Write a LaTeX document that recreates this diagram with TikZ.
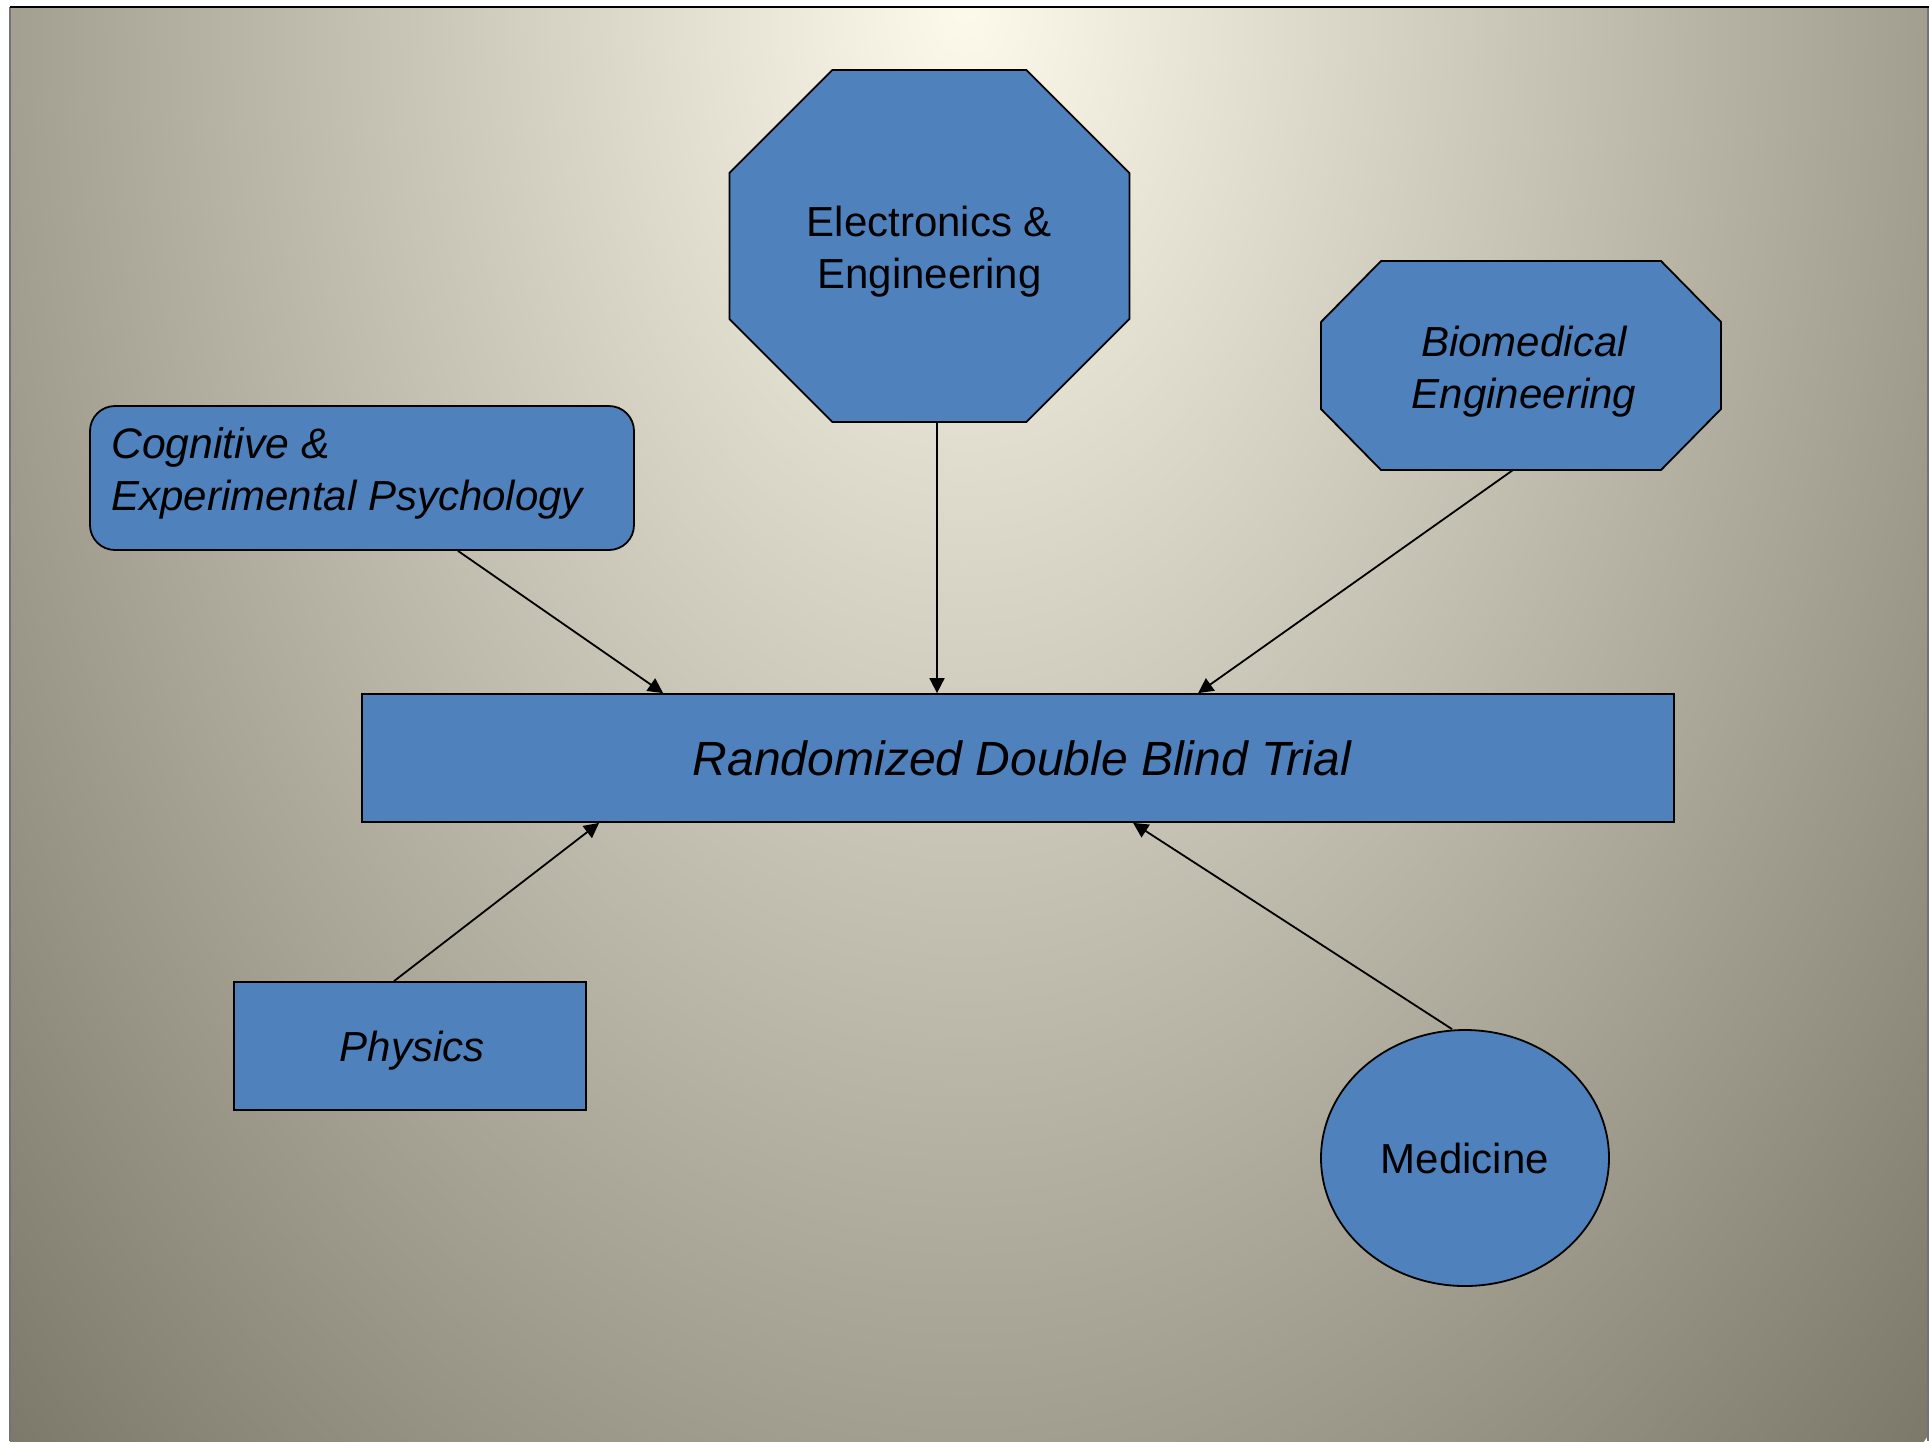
\documentclass[tikz,border=0pt]{standalone}
\usepackage{fontspec}
\setmainfont{Liberation Sans}
\usetikzlibrary{arrows.meta,shapes.geometric}
\definecolor{boxblue}{HTML}{4F81BD}
\definecolor{bgin}{HTML}{FDFAEB}
\definecolor{bgout}{HTML}{7C796A}
\pgfdeclarelayer{bglayer}
\pgfdeclarelayer{shapelayer}
\pgfsetlayers{bglayer,shapelayer,main}
\begin{document}
\begin{tikzpicture}[x=1pt,y=-1pt,
  box/.style={draw=black, fill=boxblue, line width=1.8pt},
  up/.style={font=\fontsize{42}{52}\selectfont, align=center, inner sep=0pt},
  itl/.style={font=\fontsize{42}{52}\selectfont\itshape, align=center, inner sep=0pt},
  conn/.style={line width=1.8pt, -{Triangle[length=15pt,width=15pt]}}]
\useasboundingbox (0,0) rectangle (1929,1441);
\begin{pgfonlayer}{bglayer}
  \begin{scope}
    \clip (10,7) rectangle (1929,1441);
    \shade[inner color=bgin, outer color=bgout] (964,0) ellipse (1360 and 2035);
  \end{scope}
  \draw[black!55, line width=1.5pt] (10,7) -- (10,1441);
  \draw[black!55, line width=1.5pt] (1928,7) -- (1928,1441);
  \draw[black, line width=2pt] (10,7) -- (1929,7);
\end{pgfonlayer}

% central box
\node[box, rectangle, minimum width=1312pt, minimum height=128pt, inner sep=0pt,
      label={[font=\fontsize{48}{56}\selectfont\itshape, inner sep=0pt, xshift=4pt]center:{Randomized Double Blind Trial}}]
      (rnd) at (1018,758) {};

% cognitive
\node[box, rectangle, rounded corners=25pt, minimum width=544pt, minimum height=144pt, inner sep=0pt,
      label={[itl, align=left, anchor=west, xshift=22pt, yshift=5pt]west:{\fontsize{42.7}{52}\selectfont Cognitive \&\\Experimental Psychology}}]
      (cog) at (362,478) {};

% electronics octagon
\node[minimum width=400pt, minimum height=352pt, inner sep=0pt, outer sep=0pt,
      label={[up, yshift=-6pt]center:{Electronics \&\\Engineering}}] (elec) at (929.4,246) {};
% biomedical octagon
\node[minimum width=400pt, minimum height=209pt, inner sep=0pt, outer sep=0pt,
      label={[itl, yshift=-6pt, xshift=3pt]center:{Biomedical\\Engineering}}] (bio) at (1521,365.5) {};

\begin{pgfonlayer}{shapelayer}
  \draw[box] ([xshift=103pt]elec.north west) -- ([xshift=-103pt]elec.north east)
     -- ([yshift=-103pt]elec.north east) -- ([yshift=103pt]elec.south east)
     -- ([xshift=-103pt]elec.south east) -- ([xshift=103pt]elec.south west)
     -- ([yshift=103pt]elec.south west) -- ([yshift=-103pt]elec.north west) -- cycle;
  \draw[box] ([xshift=60pt]bio.north west) -- ([xshift=-60pt]bio.north east)
     -- ([yshift=-61pt]bio.north east) -- ([yshift=61pt]bio.south east)
     -- ([xshift=-60pt]bio.south east) -- ([xshift=60pt]bio.south west)
     -- ([yshift=61pt]bio.south west) -- ([yshift=-61pt]bio.north west) -- cycle;
\end{pgfonlayer}

% physics
\node[box, rectangle, minimum width=352pt, minimum height=128pt, inner sep=0pt,
      label={[itl, yshift=-5pt, xshift=2pt]center:Physics}] (phys) at (410,1046) {};

% medicine
\node[box, ellipse, minimum width=288pt, minimum height=256pt, inner sep=0pt, up] (med) at (1465,1158) {Medicine};

% connectors
\draw[conn] ([xshift=96pt]cog.south) -- ([xshift=302pt]rnd.north west);
\draw[conn] ([xshift=7.6pt]elec.south) -- ([xshift=7.6pt]elec.south |- rnd.north);
\draw[conn] ([xshift=-8pt]bio.south) -- ([xshift=837pt]rnd.north west);
\draw[conn] ([xshift=-16pt]phys.north) -- ([xshift=238pt]rnd.south west);
\draw[conn] ([xshift=-13pt]med.north) -- ([xshift=772pt]rnd.south west);
\end{tikzpicture}
\end{document}
